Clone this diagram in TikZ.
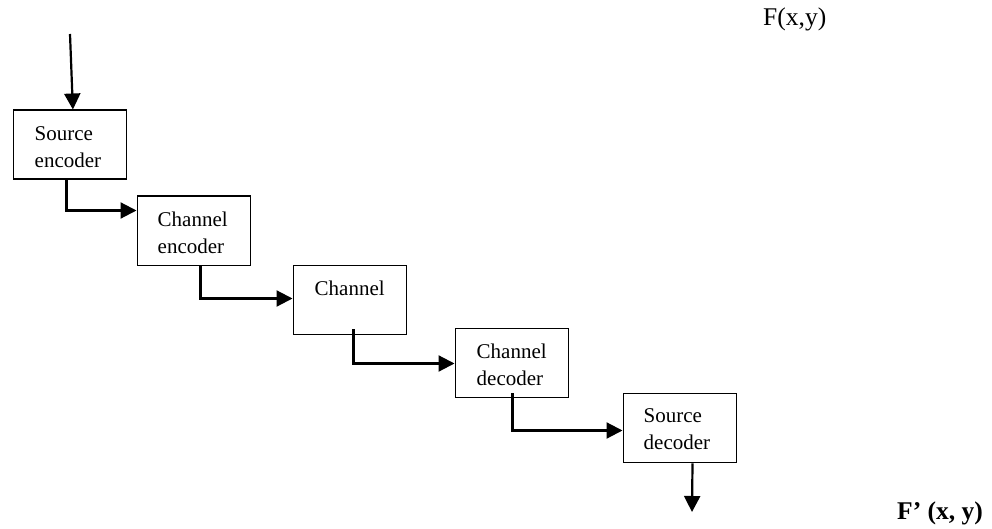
\documentclass[tikz,border=0pt]{standalone}
\usepackage{fontspec}
\setmainfont{Liberation Serif}
\usetikzlibrary{arrows.meta,calc}
\begin{document}
\begin{tikzpicture}[x=1pt,y=-1pt,
  box/.style={draw, line width=1.8pt, minimum width=113pt, minimum height=69pt, inner sep=0pt, anchor=north west},
  lbl/.style={anchor=base west, align=left, inner sep=0pt, font=\fontsize{21}{27}\selectfont},
  big/.style={anchor=base west, inner sep=0pt, font=\fontsize{25.5}{30}\selectfont},
  arr/.style={line width=2.2pt, -{Triangle[length=16pt,width=16pt]}}]
\useasboundingbox (0,0) rectangle (992,529);
% boxes
\node[box] (b1) at (12.5,109.5) {};
\node[box] (b2) at (136.5,195.5) {};
\node[box] (b3) at (292.5,264.5) {};
\node[box] (b4) at (454.5,327.5) {};
\node[box] (b5) at (622.5,392.5) {};
% box texts (base anchor = last line)
\node[lbl] (t1) at ($(b1.north west)+(22,58)$) {Source\\encoder};
\node[lbl] (t2) at ($(b2.north west)+(21,58)$) {Channel\\encoder};
\node[lbl] (t3) at ($(b3.north west)+(22,31)$) {Channel};
\node[lbl] (t4) at ($(b4.north west)+(22,58)$) {Channel\\decoder};
\node[lbl] (t5) at ($(b5.north west)+(21,57)$) {Source\\decoder};
% labels
\node[big] (fin) at (763,26) {F(x,y)};
\node[big, font=\fontsize{25.5}{30}\selectfont\bfseries] (fout) at (897,519) {F’ (x, y)};
% connectors
\coordinate (in) at (70,34);
\coordinate (out) at (692,512);
\draw[arr] (in) -- ([xshift=3pt]b1.north);
\draw[arr] ([xshift=54pt]b1.south west) |- ([yshift=-15pt]b2.north west);
\draw[arr] ([xshift=64pt]b2.south west) |- ([yshift=-34pt]b3.north west);
\draw[arr] ([xshift=61pt,yshift=6pt]b3.south west) |- ([yshift=-36pt]b4.north west);
\draw[arr] ([xshift=58pt,yshift=5pt]b4.south west) |- ([yshift=-38pt]b5.north west);
\draw[arr] ([xshift=70pt]b5.south west) -- (out);
\end{tikzpicture}
\end{document}
